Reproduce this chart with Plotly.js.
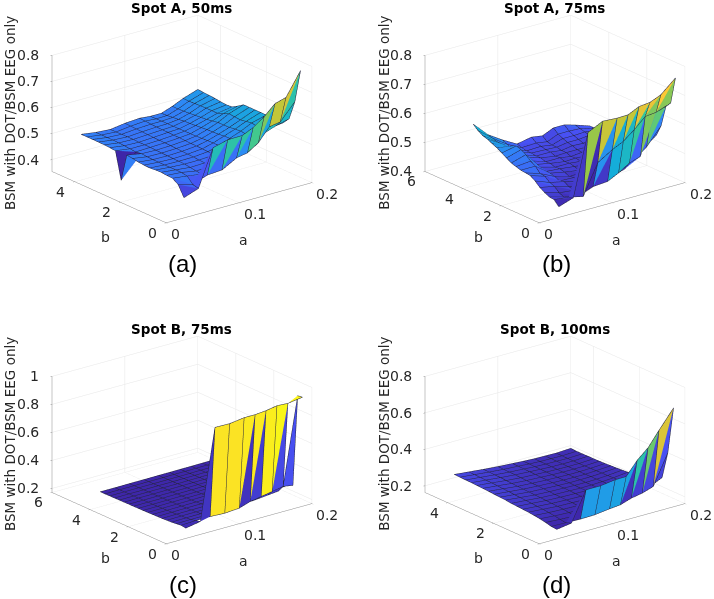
<!DOCTYPE html>
<html><head><meta charset="utf-8">
<script src="https://cdn.plot.ly/plotly-3.0.1.min.js"></script>
<style>html,body{margin:0;padding:0;background:#fff}#p{width:714px;height:599px}</style>
</head><body><div id="p"></div>
<script>
const aCols=[.04,.06,.08,.10,.12,.135,.15,.165,.18,.20];
const bRows=[.5,.75,1,1.25,1.5,1.75,2,2.25,2.5,2.75,3,3.25,3.5,3.75,4,4.25,4.5,4.75,5];
const zA=[
[.400,.420,.561,.576,.577,.596,.626,.665,.677,.765],
[.440,.425,.446,.450,.481,.489,.516,.566,.573,.635],
[.455,.448,.440,.446,.462,.478,.500,.530,.545,.560],
[.456,.452,.442,.444,.455,.470,.488,.510,.530,.535],
[.458,.452,.446,.448,.452,.464,.480,.498,.518,.516],
[.457,.452,.449,.449,.453,.466,.482,.497,.515,.525],
[.455,.451,.450,.451,.456,.468,.484,.500,.520,.535],
[.456,.452,.450,.452,.457,.468,.483,.498,.516,.535],
[.458,.452,.451,.453,.458,.467,.480,.495,.512,.535],
[.462,.453,.452,.454,.458,.466,.479,.494,.514,.535],
[.465,.455,.453,.455,.459,.465,.478,.494,.516,.535],
[.358,.452,.454,.456,.460,.464,.476,.490,.506,.520],
[.462,.454,.454,.456,.460,.464,.474,.486,.498,.507],
[.464,.456,.454,.457,.461,.463,.472,.484,.498,.505],
[.465,.457,.455,.458,.461,.463,.471,.482,.498,.507],
[.466,.458,.455,.459,.462,.463,.468,.480,.497,.510],
[.466,.458,.455,.460,.463,.463,.466,.478,.496,.512],
[.466,.458,.454,.461,.465,.462,.463,.477,.495,.513],
[.466,.458,.454,.462,.466,.462,.462,.477,.496,.515]];
const zB=[
[.413,.430,.641,.666,.663,.664,.682,.686,.702,.746],
[.430,.425,.413,.516,.547,.565,.595,.630,.634,.652],
[.432,.418,.406,.426,.430,.449,.473,.485,.617,.633],
[.440,.425,.420,.416,.422,.432,.445,.470,.500,.560],
[.450,.440,.425,.418,.420,.426,.436,.450,.480,.520],
[.465,.446,.435,.420,.416,.424,.432,.444,.470,.500],
[.476,.460,.430,.428,.420,.422,.430,.440,.462,.485],
[.478,.462,.438,.424,.426,.424,.428,.436,.458,.472],
[.480,.480,.442,.432,.424,.428,.426,.434,.454,.465],
[.485,.490,.440,.436,.430,.426,.430,.432,.452,.460],
[.490,.505,.448,.434,.434,.430,.428,.434,.450,.456],
[.500,.515,.450,.440,.432,.434,.432,.432,.450,.454],
[.510,.520,.455,.438,.438,.432,.436,.434,.448,.452],
[.520,.512,.460,.444,.436,.438,.438,.438,.448,.450],
[.527,.505,.462,.443,.443,.438,.444,.442,.450,.450],
[.535,.505,.465,.446,.444,.442,.448,.448,.452,.450],
[.540,.505,.468,.446,.448,.442,.454,.454,.456,.450],
[.550,.510,.475,.450,.452,.446,.462,.462,.460,.448],
[.565,.515,.483,.455,.465,.459,.476,.476,.465,.448]];
const zC=[
[.195,.214,.857,.855,.869,.869,.876,.890,.885,.900],
[.200,.205,.205,.200,.208,.234,.248,.262,.277,.896],
[.196,.198,.198,.198,.202,.206,.212,.220,.228,.240],
[.192,.194,.195,.196,.198,.202,.206,.212,.218,.226],
[.190,.192,.193,.194,.196,.198,.202,.206,.212,.218],
[.188,.190,.191,.192,.194,.196,.199,.203,.208,.214],
[.187,.188,.190,.191,.192,.194,.197,.200,.204,.210],
[.186,.187,.188,.189,.191,.193,.195,.198,.202,.206],
[.185,.186,.187,.188,.190,.191,.193,.196,.199,.203],
[.184,.185,.186,.187,.188,.190,.192,.194,.197,.200],
[.184,.184,.185,.186,.187,.189,.190,.192,.195,.198],
[.183,.184,.184,.185,.186,.188,.189,.191,.193,.196],
[.183,.183,.184,.184,.185,.187,.188,.189,.191,.194],
[.182,.183,.183,.184,.185,.186,.187,.188,.190,.192],
[.182,.182,.183,.183,.184,.185,.186,.187,.188,.190],
[.181,.182,.182,.183,.183,.184,.185,.186,.187,.189],
[.181,.181,.182,.182,.183,.183,.184,.185,.186,.187],
[.180,.181,.181,.182,.182,.183,.183,.184,.185,.186],
[.180,.180,.181,.181,.182,.182,.183,.183,.184,.185]];
const zD=[
[.170,.182,.343,.343,.354,.355,.427,.480,.559,.660],
[.172,.170,.168,.170,.180,.186,.206,.217,.237,.400],
[.180,.175,.172,.172,.176,.180,.188,.198,.212,.250],
[.186,.180,.176,.175,.176,.178,.184,.192,.204,.224],
[.190,.184,.180,.178,.177,.178,.182,.188,.198,.212],
[.194,.188,.182,.180,.178,.178,.181,.186,.194,.206],
[.196,.190,.184,.181,.179,.178,.180,.184,.190,.202],
[.198,.192,.186,.182,.180,.179,.180,.183,.188,.198],
[.200,.194,.187,.183,.181,.179,.180,.182,.186,.195],
[.204,.196,.188,.184,.182,.180,.180,.181,.185,.192],
[.206,.198,.190,.186,.182,.180,.180,.181,.184,.190],
[.208,.200,.192,.187,.183,.181,.180,.180,.183,.188],
[.210,.202,.193,.188,.184,.182,.180,.180,.182,.186],
[.212,.204,.195,.189,.185,.182,.180,.180,.181,.185],
[.214,.206,.197,.190,.186,.183,.181,.180,.180,.184],
[.215,.207,.199,.192,.187,.184,.181,.180,.180,.184],
[.216,.208,.200,.193,.188,.184,.182,.181,.180,.183],
[.217,.209,.201,.194,.189,.185,.182,.181,.180,.183],
[.218,.210,.202,.195,.190,.186,.183,.182,.181,.185]];
const titles=['Spot A, 50ms','Spot A, 75ms','Spot B, 75ms','Spot B, 100ms'];
const panelTags=['(a)','(b)','(c)','(d)'];
const zTitle='BSM with DOT/BSM EEG only';
const xLabel='a',yLabel='b';
const aTicks=[0,.1,.2],aTickText=['0','0.1','0.2'];
const bTicksA=[0,2,4],bTicksB=[0,2,4,6];
const zTicksA=[.4,.5,.6,.7,.8],zTicksC=[.2,.4,.6,.8,1],zTicksD=[.2,.4,.6,.8];
const zTickTextC=['0.2','0.4','0.6','0.8','1'];

const parula=[[62,38,168],[72,82,244],[46,135,247],[18,177,214],[55,200,151],[171,199,57],[254,195,56],[249,251,21]];
function col(t){t=Math.max(0,Math.min(1,t))*(parula.length-1);const i=Math.min(parula.length-2,Math.floor(t)),f=t-i;
 const c=parula[i].map((v,k)=>Math.round(v+(parula[i+1][k]-v)*f));return `rgb(${c})`;}
const panels=[
 {z:zA,zr:[.354,.8],bmax:5,bt:bTicksA,zt:zTicksA,ztt:null,cx:181.5,cy:119,o:0,v:0},
 {z:zB,zr:[.4,.8],bmax:6,bt:bTicksB,zt:zTicksA,ztt:null,cx:555.2,cy:119,o:373.7,v:0},
 {z:zC,zr:[.171,1],bmax:6,bt:bTicksB,zt:zTicksC,ztt:zTickTextC,cx:181.5,cy:440,o:0,v:321},
 {z:zD,zr:[.163,.8],bmax:5,bt:bTicksA,zt:zTicksD,ztt:null,cx:555.2,cy:440,o:373.7,v:321}];
const W=714,H=599,HW=158,HH=119;
const EYE=[-.577,-.737,.352],D=1.3,SCALE=1.556,LIFT=.006;
const traces=[],annotations=[];const layout={width:W,height:H,margin:{l:0,r:0,t:0,b:0},paper_bgcolor:'#fff',showlegend:false,annotations};
const TICK={family:'DejaVu Sans',size:14,color:'#262626'};
panels.forEach((p,n)=>{
 const sid=n?'scene'+(n+1):'scene';
 const X=[],Y=[],Z=[],I=[],J=[],K=[],FC=[];
 const nr=bRows.length,nc=aCols.length;
 const flat=p.z.flat(),mn=Math.min(...flat),mx=Math.max(...flat);
 const c=v=>col((v-mn)/(mx-mn));
 for(let r=0;r<nr;r++)for(let q=0;q<nc;q++){X.push(aCols[q]);Y.push(bRows[r]);Z.push(p.z[r][q]);}
 const isPlate=(r,q)=>{const z00=p.z[r][q],z01=p.z[r][q+1],z10=p.z[r+1][q],z11=p.z[r+1][q+1];
   return Math.abs(z01-z10)>.3&&Math.abs(z00-z11)<.1*Math.abs(z01-z10);};
 let tip=null;
 for(let r=0;r<nr-1;r++)for(let q=0;q<nc-1;q++)if(isPlate(r,q))tip={r:r+1,q:q+1,fromR:r};
 const isTip=(r,q)=>tip&&tip.r===r&&tip.q===q;
 for(let r=0;r<nr-1;r++)for(let q=0;q<nc-1;q++){
  const a=r*nc+q,b=a+1,d=a+nc,e=d+1;
  const z00=p.z[r][q],z01=p.z[r][q+1],z10=p.z[r+1][q],z11=p.z[r+1][q+1];
  const twist=Math.abs(z00+z11-z01-z10);
  if(isPlate(r,q)){I.push(a);J.push(b);K.push(e);FC.push(c(z00));continue;}
  if(isTip(r,q)||isTip(r,q+1)||isTip(r+1,q)||isTip(r+1,q+1))continue;
  I.push(a);J.push(b);K.push(d);FC.push(c(z00));
  I.push(b);J.push(e);K.push(d);FC.push(twist>0.0065?c(z10):c(z00));
 }
 traces.push({type:'mesh3d',scene:sid,x:X,y:Y,z:Z,i:I,j:J,k:K,facecolor:FC,flatshading:true,
  lighting:{ambient:1,diffuse:0,specular:0,fresnel:0,roughness:1},hoverinfo:'skip',showscale:false});
 const lx=[],ly=[],lz=[];
 const dx=EYE[0]*LIFT*.2,dy=EYE[1]*LIFT*p.bmax,dz=EYE[2]*LIFT*(p.zr[1]-p.zr[0])/.67;
 const put=(r,q)=>{lx.push(aCols[q]+dx);ly.push(bRows[r]+dy);lz.push(p.z[r][q]+dz);};
 const brk=()=>{lx.push(null);ly.push(null);lz.push(null);};
 for(let r=0;r<nr;r++)for(let q=0;q<nc-1;q++){
  if(isTip(r,q)||isTip(r,q+1))continue;
  put(r,q);put(r,q+1);brk();
 }
 for(let q=0;q<nc;q++)for(let r=0;r<nr-1;r++){
  if(isTip(r+1,q)&&tip.fromR!==r)continue;
  if(isTip(r,q))continue;
  put(r,q);put(r+1,q);brk();
 }
 if(tip){put(tip.fromR,tip.q-1);put(tip.r,tip.q);brk();}
 traces.push({type:'scatter3d',mode:'lines',scene:sid,x:lx,y:ly,z:lz,line:{color:'#24243c',width:1},hoverinfo:'skip',showlegend:false,connectgaps:false});
 const ax=(range,vals)=>({range,tickvals:vals,ticktext:vals.map(String),tickmode:'array',title:{text:''},showticklabels:false,
   showbackground:false,showspikes:false,zeroline:false,showline:true,linecolor:'#8c8c8c',linewidth:1,
   gridcolor:'#e6e6e6',gridwidth:1,ticks:'outside',ticklen:2,tickcolor:'#8c8c8c',autorange:false});
 const ztxt=p.ztt||p.zt.map(v=>v.toFixed(1));
 const sa=[];
 aTicks.forEach((v,i)=>sa.push({x:v,y:0,z:p.zr[0],text:aTickText[i],showarrow:false,xanchor:'left',yanchor:'middle',xshift:3,yshift:-11.5,font:TICK}));
 p.bt.forEach(v=>sa.push({x:0,y:v,z:p.zr[0],text:String(v),showarrow:false,xanchor:'center',yanchor:'middle',xshift:-13.5,yshift:-10,font:TICK}));
 p.zt.forEach((v,i)=>sa.push({x:0,y:p.bmax,z:v,text:ztxt[i],showarrow:false,xanchor:'right',yanchor:'middle',xshift:-11,yshift:0,font:TICK}));
 layout[sid]={domain:{x:[(p.cx-HW)/W,(p.cx+HW)/W],y:[1-(p.cy+HH)/H,1-(p.cy-HH)/H]},
  xaxis:ax([0,.2],aTicks),yaxis:ax([0,p.bmax],p.bt),zaxis:ax(p.zr,p.zt),annotations:sa,
  aspectmode:'manual',aspectratio:{x:SCALE,y:SCALE,z:.67*SCALE},
  camera:{projection:{type:'orthographic'},up:{x:0,y:0,z:1},center:{x:0,y:0,z:0},eye:{x:EYE[0]*D,y:EYE[1]*D,z:EYE[2]*D}}};
 const A=(x,y,text,size,extra)=>annotations.push(Object.assign({xref:'paper',yref:'paper',x:x/W,y:1-y/H,text,showarrow:false,xanchor:'center',yanchor:'middle',font:{family:'DejaVu Sans',size,color:'#000'}},extra||{}));
 A(181+p.o,8+p.v,'<b>'+titles[n]+'</b>',13.5);
 A(10+p.o,113+p.v,zTitle,13.5,{textangle:-90,font:{family:'DejaVu Sans',size:13.5,color:'#262626'}});
 A(243+p.o,240+p.v,xLabel,14,{font:TICK});
 A(105+p.o,237+p.v,yLabel,14,{font:TICK});
 A(183+p.o,p.v?584:263,panelTags[n],24,{font:{family:'Liberation Sans',size:24,color:'#000'}});
});
Plotly.newPlot('p',traces,layout,{displayModeBar:false});
</script></body></html>
